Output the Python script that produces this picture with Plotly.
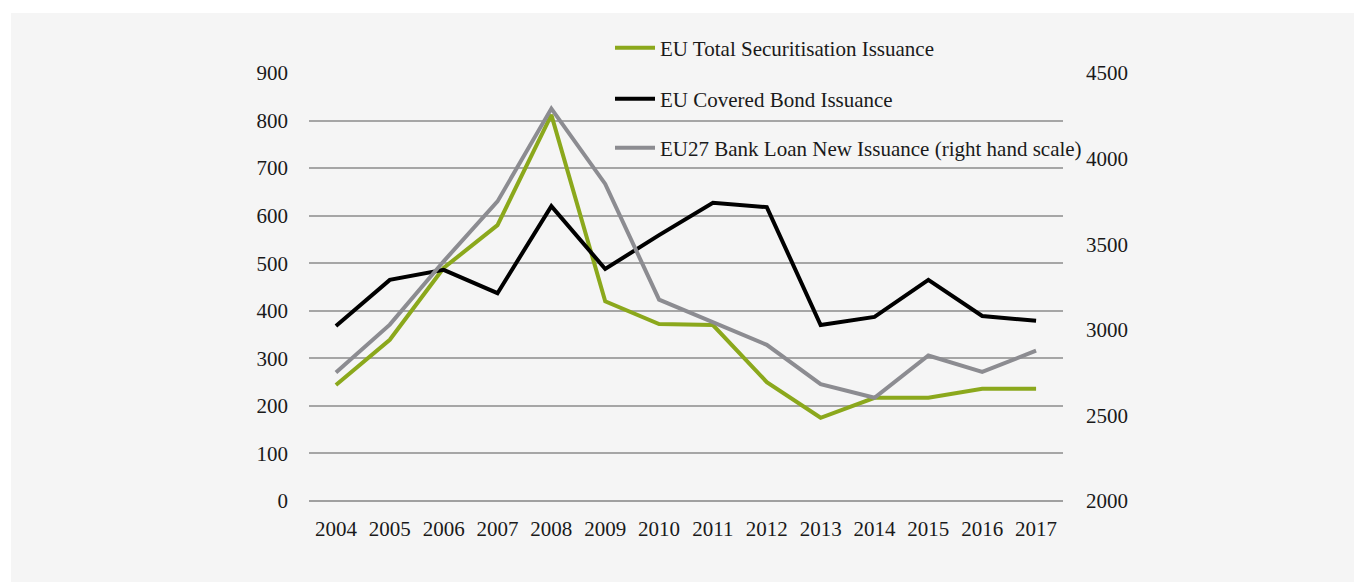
import plotly.graph_objects as go

years = ["2004", "2005", "2006", "2007", "2008", "2009", "2010",
         "2011", "2012", "2013", "2014", "2015", "2016", "2017"]
securitisation = [244, 339, 490, 580, 812, 420, 372, 370, 250, 175, 217, 217, 236, 236]
covered_bond = [368, 465, 486, 437, 620, 488, 559, 627, 618, 370, 387, 465, 389, 379]
bank_loan = [2750, 3030, 3400, 3750, 4292, 3852, 3176, 3042, 2912, 2683, 2603, 2850, 2754, 2878]

names = ["EU Total Securitisation Issuance",
         "EU Covered Bond Issuance",
         "EU27 Bank Loan New Issuance (right hand scale)"]
colors = ["#8BA81C", "#000000", "#8C8C91"]

FONT = "Liberation Serif"
FS = 21
OFF = 8  # page body margin
W, H = 1362 - OFF, 582 - OFF
L, T = 309 - OFF, 73 - OFF
pw, ph = 754, 428
R, B = W - L - pw, H - T - ph

fig = go.Figure()
fig.add_trace(go.Scatter(x=years, y=securitisation, name=names[0], mode="lines",
                         line=dict(color=colors[0], width=4), legend="legend"))
fig.add_trace(go.Scatter(x=years, y=covered_bond, name=names[1], mode="lines",
                         line=dict(color=colors[1], width=4), legend="legend2"))
fig.add_trace(go.Scatter(x=years, y=bank_loan, name=names[2], mode="lines",
                         line=dict(color=colors[2], width=4), yaxis="y2", legend="legend3"))

def px_x(p):
    # p in page pixels
    return (p - OFF - L) / pw

def px_y(p):
    return (T + ph - (p - OFF)) / ph

legend_common = dict(font=dict(family=FONT, size=FS, color="#1a1a1a"),
                     bgcolor="rgba(0,0,0,0)", xanchor="left", yanchor="middle",
                     itemwidth=40, x=px_x(610))

fig.update_layout(
    width=W, height=H,
    margin=dict(l=L, r=R, t=T, b=B, pad=0),
    paper_bgcolor="#F5F5F5",
    plot_bgcolor="#F5F5F5",
    font=dict(family=FONT, size=FS, color="#1a1a1a"),
    showlegend=True,
    legend=dict(**legend_common, y=px_y(48)),
    legend2=dict(**legend_common, y=px_y(99)),
    legend3=dict(**legend_common, y=px_y(148)),
    xaxis=dict(type="category", range=[-0.5, len(years) - 0.5],
               showgrid=False, showline=False, zeroline=False,
               ticks="", ticklabelstandoff=13,
               tickfont=dict(family=FONT, size=FS, color="#1a1a1a")),
    yaxis=dict(range=[0, 900], dtick=100, showgrid=True, gridcolor="#A6A6A6",
               gridwidth=1.5, zeroline=True, zerolinecolor="#A0A0A0", zerolinewidth=1.5,
               showline=False, ticks="", ticklabelstandoff=20,
               tickfont=dict(family=FONT, size=FS, color="#1a1a1a")),
    yaxis2=dict(range=[2000, 4500], dtick=500, overlaying="y", side="right",
                showgrid=False, zeroline=False, showline=False, ticks="",
                ticklabelstandoff=22,
                tickfont=dict(family=FONT, size=FS, color="#1a1a1a")),
    shapes=[
        dict(type="rect", xref="paper", yref="paper", layer="above",
             x0=px_x(0), x1=px_x(11), y0=px_y(600), y1=px_y(0),
             fillcolor="white", line=dict(width=0)),
        dict(type="rect", xref="paper", yref="paper", layer="above",
             x0=px_x(0), x1=px_x(1400), y0=px_y(13), y1=px_y(0),
             fillcolor="white", line=dict(width=0)),
    ],
)

fig.write_html("out.html")
